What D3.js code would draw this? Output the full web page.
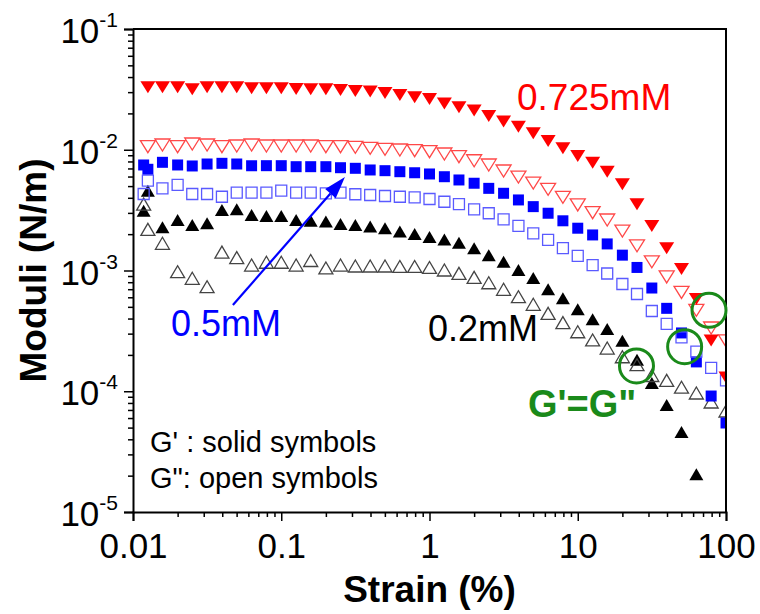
<!DOCTYPE html>
<html>
<head>
<meta charset="utf-8">
<script src="https://cdn.jsdelivr.net/npm/d3@7"></script>
<style>
  html, body { margin: 0; padding: 0; background: #fff; }
  svg { display: block; }
  text { font-family: Arial, "Liberation Sans", sans-serif; }
</style>
</head>
<body>
<svg id="chart" width="760" height="614"></svg>
<script>
// ---------------- DATA ----------------
const strain = [0.0126, 0.0158, 0.02, 0.0251, 0.0316, 0.0398, 0.0501, 0.0631, 0.0794, 0.1,
  0.126, 0.158, 0.2, 0.251, 0.316, 0.398, 0.501, 0.631, 0.794, 1,
  1.26, 1.58, 2, 2.51, 3.16, 3.98, 5.01, 6.31, 7.94, 10,
  12.6, 15.8, 20, 25.1, 31.6, 39.8, 50.1, 63.1, 79.4, 100];
const strainLow = [0.0118].concat(strain);

// 0.725 mM
const gPrime725 = [0.0329, 0.0329, 0.0329, 0.0317, 0.0329, 0.0329, 0.0329, 0.0323, 0.0323, 0.0323,
  0.0319, 0.0317, 0.0317, 0.0313, 0.0307, 0.0303, 0.0295, 0.0284, 0.0272, 0.0263,
  0.0242, 0.0225, 0.0211, 0.0190, 0.0171, 0.0155, 0.0137, 0.0118, 0.0103, 0.00887,
  0.00781, 0.00658, 0.00518, 0.00353, 0.00234, 0.00153, 0.00103, 0.000581, 0.000263, 0.000130];
const gDouble725 = [0.0106, 0.01095, 0.0106, 0.01116, 0.01095, 0.0106, 0.01074, 0.01095, 0.01074, 0.01074,
  0.01074, 0.01074, 0.0106, 0.0106, 0.01048, 0.01028, 0.01009, 0.00995, 0.00982, 0.00964,
  0.00922, 0.00876, 0.00811, 0.00748, 0.00667, 0.00594, 0.0053, 0.0047, 0.00404, 0.00349,
  0.00301, 0.00262, 0.00212, 0.0016, 0.00118, 0.000884, 0.000658, 0.000468, 0.000334, 0.000261];

// 0.5 mM (first value at strainLow[0])
const gPrime05 = [0.00748, 0.00689, 0.00787, 0.00748, 0.00734, 0.00762, 0.00772, 0.00762, 0.00738, 0.00738, 0.00738,
  0.00724, 0.00724, 0.00724, 0.0071, 0.00702, 0.0068, 0.00671, 0.00658, 0.00645, 0.0063,
  0.00598, 0.00562, 0.00528, 0.00479, 0.00436, 0.00384, 0.00338, 0.00298, 0.00258, 0.00224,
  0.00197, 0.00166, 0.00134, 0.00106, 0.000716, 0.000486, 0.000304, 0.000175, 0.0000913, 0.0000546];
const gDouble05 = [0.0043, 0.00554, 0.00479, 0.00511, 0.0043, 0.0043, 0.00408, 0.00441, 0.00441, 0.00441, 0.00458,
  0.00441, 0.00441, 0.00436, 0.00441, 0.00428, 0.00422, 0.00414, 0.00408, 0.00404, 0.00391,
  0.00371, 0.00355, 0.00321, 0.00298, 0.00265, 0.00234, 0.00203, 0.00179, 0.00153, 0.00132,
  0.00111, 0.000944, 0.000773, 0.000639, 0.000462, 0.000361, 0.000279, 0.000213, 0.000156, 0.000123];

// 0.2 mM (first value at strainLow[0])
const gPrime02 = [0.00313, 0.00458, 0.00228, 0.00262, 0.00238, 0.00246, 0.00317, 0.00321, 0.00288, 0.00283, 0.00283,
  0.00262, 0.00258, 0.00254, 0.00243, 0.00238, 0.00231, 0.00224, 0.0021, 0.00201, 0.00189,
  0.00181, 0.0017, 0.00153, 0.00134, 0.00118, 0.00101, 0.000867, 0.000699, 0.000589, 0.000477,
  0.000394, 0.000328, 0.000262, 0.000182, 0.000117, 0.0000769, 0.000046, 0.0000205];
const gDouble02 = [0.00355, 0.00219, 0.00168, 0.000977, 0.000862, 0.000734, 0.00142, 0.00128, 0.00111, 0.00117, 0.00117,
  0.00111, 0.00121, 0.00105, 0.00111, 0.00109, 0.00109, 0.00109, 0.00108, 0.00108, 0.00106,
  0.00101, 0.000948, 0.000878, 0.000792, 0.000699, 0.000607, 0.000525, 0.000442, 0.00037, 0.000311,
  0.000266, 0.000228, 0.000193, 0.000166, 0.000135, 0.000123, 0.000108, 0.0000967, 0.0000815, 0.0000686];

const xTickValues = [0.01, 0.1, 1, 10, 100];
const xTickLabels = ["0.01", "0.1", "1", "10", "100"];
const yTickValues = [1e-1, 1e-2, 1e-3, 1e-4, 1e-5];
const yTickExponents = ["-1", "-2", "-3", "-4", "-5"];

// crossover annotations (strain, modulus)
const crossStrain = [24.9, 52.6, 76.8];
const crossModulus = [1.62e-4, 2.34e-4, 4.68e-4];
// arrow (tail -> head) in data coords
const arrowStrain = [0.0472, 0.269];
const arrowModulus = [5.18e-4, 5.95e-3];

// ---------------- CHART ----------------
const svg = d3.select("#chart");
const L = 133, R = 726, T = 29, B = 512;
const x = d3.scaleLog().domain([0.01, 100]).range([L, R]);
const y = d3.scaleLog().domain([1e-5, 1e-1]).range([B, T]);

svg.append("defs").append("clipPath").attr("id", "clip")
  .append("rect").attr("x", L).attr("y", T).attr("width", R - L).attr("height", B - T);

function tri(cx, cy, w, h, down) {
  const s = down ? -1 : 1;
  return `M${cx - w / 2},${cy + s * h / 2}L${cx + w / 2},${cy + s * h / 2}L${cx},${cy - s * h / 2}Z`;
}
function sq(cx, cy, a) {
  return `M${cx - a / 2},${cy - a / 2}h${a}v${a}h${-a}Z`;
}

const plot = svg.append("g").attr("clip-path", "url(#clip)");

function drawSeries(xs, ys, shape, fill, stroke, sw) {
  const pts = ys.map((v, i) => [xs[i], v]);
  plot.append("g").selectAll("path").data(pts).join("path")
    .attr("d", d => {
      const cx = x(d[0]), cy = y(d[1]);
      if (shape === "up") return tri(cx, cy, 14, 12, false);
      if (shape === "down") return tri(cx, cy, 15, 12, true);
      return sq(cx, cy, 11);
    })
    .attr("fill", fill)
    .attr("stroke", stroke)
    .attr("stroke-width", sw);
}

drawSeries(strainLow, gPrime02, "up", "#000", "none", 0);
drawSeries(strainLow, gDouble02, "up", "none", "#444", 1.3);
drawSeries(strainLow, gPrime05, "sq", "#0000ff", "none", 0);
drawSeries(strainLow, gDouble05, "sq", "none", "#5a5aff", 1.3);
drawSeries(strain, gDouble725, "down", "none", "#ff4848", 1.3);
drawSeries(strain, gPrime725, "down", "#ff0000", "none", 0);

// ---------------- AXES ----------------
const minorX = x.ticks(40).filter(v => !xTickValues.some(t => Math.abs(Math.log10(v) - Math.log10(t)) < 1e-6));
const minorY = y.ticks(40).filter(v => !yTickValues.some(t => Math.abs(Math.log10(v) - Math.log10(t)) < 1e-6));

const xAxis = svg.append("g").attr("transform", `translate(0,${B})`)
  .call(d3.axisBottom(x).tickValues(xTickValues).tickSize(9)
    .tickFormat((d, i) => xTickLabels[i]).tickPadding(12));
svg.append("g").attr("transform", `translate(0,${B})`)
  .call(d3.axisBottom(x).tickValues(minorX).tickSize(5).tickFormat(""))
  .call(g => g.select(".domain").remove());

svg.append("g").attr("transform", `translate(${L},0)`)
  .call(d3.axisLeft(y).tickValues(yTickValues).tickSize(9).tickFormat(""));
svg.append("g").attr("transform", `translate(${L},0)`)
  .call(d3.axisLeft(y).tickValues(minorY).tickSize(5).tickFormat(""))
  .call(g => g.select(".domain").remove());

svg.selectAll(".domain").attr("stroke", "#000").attr("stroke-width", 2);
svg.selectAll(".tick line").attr("stroke", "#000").attr("stroke-width", 1.5);

xAxis.selectAll(".tick text")
  .attr("font-size", 35).attr("fill", "#000")
  .attr("font-family", "Arial, 'Liberation Sans', sans-serif");

yTickValues.forEach((v, i) => {
  const t = svg.append("text")
    .attr("x", 118).attr("y", y(v) + 14)
    .attr("text-anchor", "end").attr("font-size", 35).attr("fill", "#000");
  t.append("tspan").text("10");
  t.append("tspan").attr("font-size", 21).attr("dy", -16).text(yTickExponents[i]);
});

svg.append("path")
  .attr("d", `M${L},${T}H${R}V${B}`)
  .attr("fill", "none").attr("stroke", "#000").attr("stroke-width", 2);

svg.append("text").attr("x", (L + R) / 2).attr("y", 602)
  .attr("text-anchor", "middle").attr("font-size", 37).attr("font-weight", "bold")
  .text("Strain (%)");
svg.append("text")
  .attr("transform", `translate(46,${(T + B) / 2}) rotate(-90)`)
  .attr("text-anchor", "middle").attr("font-size", 37).attr("font-weight", "bold")
  .text("Moduli (N/m)");

// ---------------- ANNOTATIONS ----------------
svg.append("text").attr("x", 517).attr("y", 110).attr("font-size", 37).attr("fill", "#ff0000").text("0.725mM");
svg.append("text").attr("x", 171).attr("y", 336).attr("font-size", 36).attr("fill", "#0000ff").text("0.5mM");
svg.append("text").attr("x", 428).attr("y", 341).attr("font-size", 36).attr("fill", "#000").text("0.2mM");
svg.append("text").attr("x", 528).attr("y", 417).attr("font-size", 38).attr("font-weight", "bold")
  .attr("fill", "#1a8a1a").text("G'=G\"");

svg.append("text").attr("x", 150).attr("y", 452).attr("font-size", 29).attr("fill", "#000").text("G' : solid symbols");
svg.append("text").attr("x", 150).attr("y", 488).attr("font-size", 29).attr("fill", "#000").text("G\": open symbols");

svg.append("g").selectAll("circle").data(crossStrain.map((s, i) => [s, crossModulus[i]])).join("circle")
  .attr("cx", d => x(d[0])).attr("cy", d => y(d[1])).attr("r", 17)
  .attr("fill", "none").attr("stroke", "#1a8a1a").attr("stroke-width", 3);

const ax0 = x(arrowStrain[0]), ay0 = y(arrowModulus[0]);
const ax1 = x(arrowStrain[1]), ay1 = y(arrowModulus[1]);
const ang = Math.atan2(ay1 - ay0, ax1 - ax0);
const headLen = 22, headW = 7;
const bx = ax1 - headLen * Math.cos(ang), by = ay1 - headLen * Math.sin(ang);
svg.append("line").attr("x1", ax0).attr("y1", ay0).attr("x2", bx).attr("y2", by)
  .attr("stroke", "#0000ff").attr("stroke-width", 2.2);
svg.append("path")
  .attr("d", `M${ax1},${ay1}L${bx + headW * Math.sin(ang)},${by - headW * Math.cos(ang)}L${bx - headW * Math.sin(ang)},${by + headW * Math.cos(ang)}Z`)
  .attr("fill", "#0000ff");
</script>
</body>
</html>
